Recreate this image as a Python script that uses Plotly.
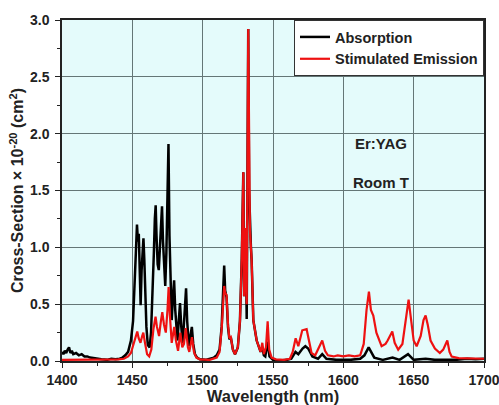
import plotly.graph_objects as go

# Absorption (black)
abs_wl = [1400, 1401, 1402, 1403, 1404, 1405, 1406, 1407, 1408, 1410, 1412, 1414, 1416, 1418, 1420,
          1424, 1428, 1432, 1435, 1438, 1441, 1443, 1445, 1447, 1449, 1450.5, 1451.5, 1452.5, 1453.3,
          1454, 1454.6, 1455.3, 1455.9, 1456.6, 1457.3, 1457.9, 1458.5, 1459.2, 1460, 1461, 1462.3,
          1463.3, 1464.3, 1465.3, 1466.0, 1466.6, 1467.2, 1468, 1468.8, 1469.5, 1470.3, 1471.1, 1471.8,
          1472.6, 1473.4, 1474.2, 1475.0, 1475.7, 1476.4, 1477.2, 1478, 1478.8, 1479.7, 1480.5, 1481.3,
          1482.1, 1483.0, 1483.9, 1484.8, 1485.8, 1486.8, 1487.6, 1488.2, 1489, 1490.2, 1491.3, 1492.3,
          1493.3, 1494.5, 1496, 1498, 1502, 1505, 1508, 1510, 1512, 1513.5, 1514.6, 1515.3, 1516, 1517,
          1518, 1519, 1520, 1521.5, 1523, 1525, 1526.5, 1527.8, 1528.9, 1529.5, 1530.1, 1530.8, 1531.3,
          1532.4, 1533, 1533.6, 1534.3, 1534.8, 1536, 1538.4, 1541.2, 1542.4, 1543.5, 1544.5, 1546.2,
          1547.5, 1550, 1555, 1560, 1563, 1566, 1568, 1571, 1573,
          1575, 1578, 1582, 1585, 1588, 1595, 1605, 1612, 1615, 1618, 1620, 1622, 1628, 1635, 1640, 1646,
          1650, 1658.5, 1665, 1680, 1688, 1694, 1700]
abs_val = [0.08, 0.06, 0.09, 0.07, 0.10, 0.12, 0.07, 0.09, 0.06, 0.07, 0.05, 0.06, 0.04, 0.04, 0.03,
           0.02, 0.015, 0.01, 0.02, 0.015, 0.02, 0.03, 0.05, 0.08, 0.18, 0.35, 0.60, 0.95, 1.20,
           1.05, 1.12, 0.75, 0.49, 0.80, 0.95, 1.08, 0.90, 0.55, 0.30, 0.14, 0.12,
           0.25, 0.55, 0.95, 1.25, 1.37, 1.10, 0.85, 0.80, 0.95, 1.20, 1.36, 1.05,
           0.78, 0.66, 0.95, 1.45, 1.91, 1.10, 0.55, 0.36, 0.55, 0.71, 0.45, 0.25,
           0.18, 0.35, 0.51, 0.30, 0.16, 0.35, 0.60, 0.64, 0.35, 0.13, 0.22, 0.30,
           0.15, 0.06, 0.03, 0.015, 0.01, 0.02, 0.03, 0.05, 0.10, 0.30, 0.70, 0.84, 0.62, 0.56,
           0.30, 0.19, 0.21, 0.10, 0.06, 0.12, 0.35, 0.90, 1.66, 0.57, 1.17, 0.90, 0.37,
           2.92, 1.50, 1.15, 1.00, 0.89, 0.36, 0.18, 0.08, 0.12, 0.05, 0.04, 0.17,
           0.04, 0.01, 0.005, 0.01, 0.02, 0.08, 0.06, 0.11, 0.13,
           0.11, 0.04, 0.02, 0.06, 0.02, 0.01, 0.01, 0.02, 0.05, 0.12, 0.08, 0.03, 0.01, 0.03, 0.01, 0.06,
           0.01, 0.02, 0.01, 0.01, 0.02, 0.015, 0.02]

# Stimulated emission (red)
em_wl = [1400, 1420, 1435, 1440, 1444, 1447, 1449, 1451, 1452.5, 1453.5, 1454.5, 1455.8, 1457, 1457.8,
         1459, 1460.5, 1462, 1463.5, 1465, 1466.5, 1467.5, 1469, 1470.3, 1471.3, 1472.5, 1473.8, 1475,
         1475.8, 1476.7, 1478, 1479.8, 1481, 1482.5, 1484.1, 1485.5, 1486.7, 1488, 1489.5, 1490.5,
         1492.4, 1493.8, 1495.5, 1498, 1505, 1510, 1512, 1513.5, 1514.6, 1515.3, 1516, 1517, 1518,
         1519, 1520, 1521.5, 1523, 1525, 1526.5, 1527.8, 1528.9, 1529.5, 1530.1, 1530.8, 1531.3,
         1532.4, 1533, 1533.6, 1534.3, 1534.8, 1536, 1538.4, 1541.2, 1542.4, 1543.5, 1545, 1546.2,
         1547.3, 1549, 1552, 1558, 1562, 1564, 1566.1, 1568, 1570.8, 1573.9, 1575.5, 1577.4, 1580,
         1583, 1585, 1587, 1589, 1593, 1596, 1600, 1604, 1608, 1612, 1614.5, 1616.5, 1618.2, 1619.6,
         1621.3, 1623.5, 1627.2, 1630, 1631.5, 1634.8, 1636.5, 1639, 1642, 1644, 1646.4, 1648, 1650,
         1652.1, 1655, 1657, 1658.5, 1660, 1662, 1665.1, 1668.6, 1671, 1673.9, 1675.5, 1677, 1682,
         1690, 1700]
em_val = [0.01, 0.012, 0.01, 0.015, 0.02, 0.04, 0.07, 0.15, 0.22, 0.26, 0.20, 0.16, 0.22, 0.25,
          0.16, 0.06, 0.04, 0.10, 0.28, 0.39, 0.30, 0.22, 0.35, 0.43, 0.32, 0.25, 0.45,
          0.65, 0.40, 0.16, 0.30, 0.18, 0.09, 0.25, 0.12, 0.15, 0.29, 0.12, 0.08,
          0.21, 0.08, 0.03, 0.015, 0.01, 0.03, 0.08, 0.28, 0.55, 0.66, 0.60, 0.58, 0.32,
          0.20, 0.21, 0.10, 0.06, 0.12, 0.35, 0.90, 1.66, 0.57, 1.17, 0.90, 0.50,
          2.92, 1.50, 1.15, 1.00, 0.89, 0.36, 0.18, 0.08, 0.16, 0.06, 0.12, 0.35,
          0.10, 0.03, 0.015, 0.01, 0.02, 0.08, 0.20, 0.13, 0.27, 0.28, 0.18, 0.07, 0.05,
          0.12, 0.18, 0.09, 0.05, 0.04, 0.05, 0.04, 0.05, 0.04, 0.05, 0.15, 0.45, 0.61, 0.45,
          0.40, 0.25, 0.13, 0.15, 0.18, 0.26, 0.16, 0.10, 0.15, 0.35, 0.54, 0.38, 0.18,
          0.13, 0.22, 0.36, 0.40, 0.32, 0.18, 0.11, 0.07, 0.10, 0.18, 0.08, 0.04, 0.025,
          0.02, 0.02]

x_ticks = [1400, 1450, 1500, 1550, 1600, 1650, 1700]
y_ticks = [0.0, 0.5, 1.0, 1.5, 2.0, 2.5, 3.0]

font_fam = "Liberation Sans, Arial, sans-serif"
grid_col = "#647676"
axis_col = "#222222"
txt_col = "#222222"

fig = go.Figure()
fig.add_trace(go.Scatter(x=abs_wl, y=abs_val, mode="lines", name="Absorption",
                         line=dict(color="#000000", width=2.5)))
fig.add_trace(go.Scatter(x=em_wl, y=em_val, mode="lines", name="Stimulated Emission",
                         line=dict(color="#ee1111", width=2.2)))

fig.add_annotation(x=1627, y=1.91, text="Er:YAG", showarrow=False,
                   font=dict(family=font_fam, size=15, color=txt_col, weight="bold"))
fig.add_annotation(x=1627, y=1.57, text="Room T", showarrow=False,
                   font=dict(family=font_fam, size=15, color=txt_col, weight="bold"))

fig.update_layout(
    template="none",
    width=499, height=405,
    margin=dict(l=62, r=15, t=20, b=44),
    paper_bgcolor="white",
    plot_bgcolor="#e4fbfb",
    font=dict(family=font_fam, size=13, color=txt_col, weight="bold"),
    showlegend=True,
    legend=dict(x=1, xanchor="right", y=1, yanchor="top",
                bgcolor="white", bordercolor="#333333", borderwidth=1,
                font=dict(family=font_fam, size=14.5, color=txt_col, weight="bold"),
                tracegroupgap=0, itemwidth=30,
                ),
    xaxis=dict(
        range=[1400, 1700], tickvals=x_ticks, ticktext=[str(v) for v in x_ticks],
        automargin=False, ticklabeloverflow="allow",
        showgrid=True, gridcolor=grid_col, gridwidth=1,
        showline=True, linecolor=axis_col, linewidth=1.5, mirror=True,
        ticks="outside", ticklen=5, tickcolor=axis_col, tickwidth=1,
        minor=dict(tickvals=[1425, 1475, 1525, 1575, 1625, 1675], ticks="outside",
                   ticklen=3, tickcolor=axis_col, showgrid=False),
        zeroline=False,
        tickfont=dict(family=font_fam, size=14, color=txt_col, weight="bold"),
        title=dict(text="Wavelength (nm)",
                   font=dict(family=font_fam, size=16.5, color=txt_col, weight="bold")),
    ),
    yaxis=dict(
        range=[0, 3.0], tickvals=y_ticks, ticktext=["%.1f" % v for v in y_ticks],
        automargin=True, ticklabeloverflow="allow", ticklabelstandoff=3,
        showgrid=True, gridcolor=grid_col, gridwidth=1,
        showline=True, linecolor=axis_col, linewidth=1.5, mirror=True,
        ticks="outside", ticklen=5, tickcolor=axis_col, tickwidth=1,
        minor=dict(tickvals=[0.25, 0.75, 1.25, 1.75, 2.25, 2.75], ticks="outside",
                   ticklen=3, tickcolor=axis_col, showgrid=False),
        zeroline=False,
        tickfont=dict(family=font_fam, size=14, color=txt_col, weight="bold"),
        title=dict(text="Cross-Section \u00d7 10<sup>-20</sup> (cm<sup>2</sup>)", standoff=2,
                   font=dict(family=font_fam, size=16, color=txt_col, weight="bold")),
    ),
)

fig.write_html("out.html", config={"displayModeBar": False},
               post_script="document.body.style.margin='0';document.body.style.overflow='hidden';")
